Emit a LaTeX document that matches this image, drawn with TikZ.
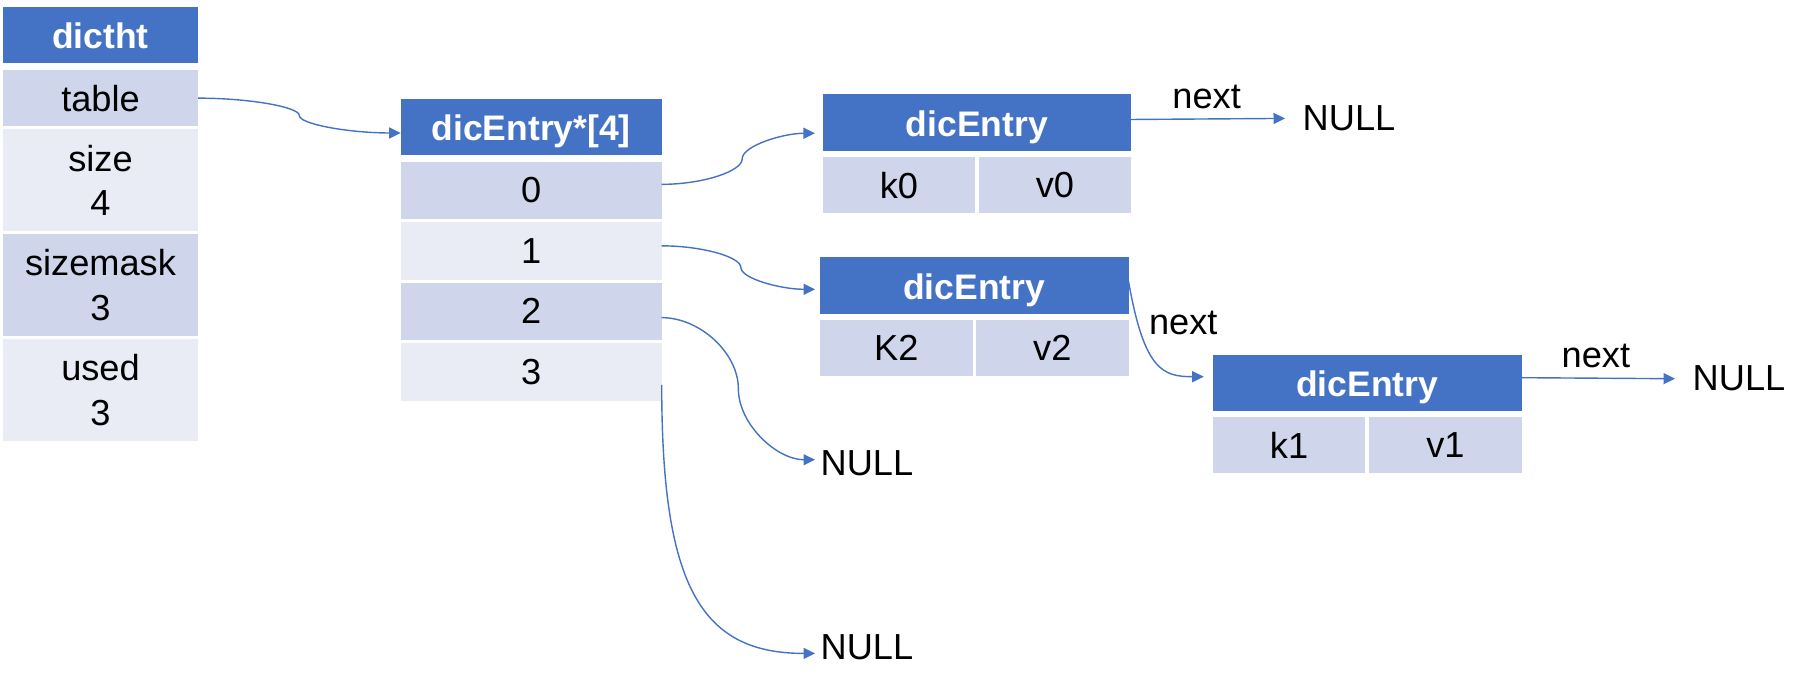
\documentclass[tikz,border=0pt]{standalone}
\usepackage{fontspec}
\setmainfont{Liberation Sans}
\usetikzlibrary{arrows.meta,positioning,calc}
\definecolor{hdrblue}{HTML}{4472C4}
\definecolor{rowdark}{HTML}{CFD5EA}
\definecolor{rowlight}{HTML}{E9EBF5}
\tikzset{
  head/.style  = {rectangle, fill=hdrblue, text=white, inner sep=0, outer sep=0,
                  minimum height=5.63mm, text height=2.9mm, text depth=0.1mm,
                  font=\fontsize{10.1}{12}\selectfont\bfseries},
  cell/.style  = {rectangle, fill=#1, inner sep=0, outer sep=0, align=center,
                  font=\fontsize{10.3}{12.6}\selectfont},
  kv/.style    = {cell=rowdark, minimum width=15.26mm, minimum height=5.6mm},
  word/.style  = {inner sep=0, anchor=base west, font=\fontsize{10.3}{12.6}\selectfont},
  null/.style  = {word, inner xsep=1.7mm},
  link/.style  = {-{Triangle[length=1.15mm,width=1.1mm]}, hdrblue, line width=0.4pt},
  curvy/.style = {to path={let \p1=(\tikztostart), \p2=(\tikztotarget) in
                   .. controls ({(3*\x1+\x2)/4},\y1) and ({(\x1+\x2)/2},{(3*\y1+\y2)/4})
                   .. ({(\x1+\x2)/2},{(\y1+\y2)/2})
                   .. controls ({(\x1+\x2)/2},{(\y1+3*\y2)/4}) and ({(\x1+3*\x2)/4},\y2)
                   .. (\p2) \tikztonodes}},
}
\begin{document}
\begin{tikzpicture}
  \useasboundingbox (0,0) rectangle (18.08,-6.91);

  % dictht
  \node[head, minimum width=1.95cm] (ht) at (1.005,-0.35) {dictht};
  \node[cell=rowdark, minimum width=1.95cm, minimum height=5.6mm, below=0.7mm of ht] (tbl) {table};
  \node[cell=rowlight, minimum width=1.95cm, minimum height=10.2mm, below=0.3mm of tbl] (size) {size\\4};
  \node[cell=rowdark, minimum width=1.95cm, minimum height=10.2mm, below=0.3mm of size] (mask) {sizemask\\3};
  \node[cell=rowlight, minimum width=1.95cm, minimum height=10.2mm, below=0.3mm of mask] (used) {used\\3};

  % bucket array
  \node[head, minimum width=2.61cm] (arr) at (5.312,-1.27) {dicEntry*[4]};
  \foreach \i/\c in {0/rowdark,1/rowlight,2/rowdark,3/rowlight}
    \node[cell=\c, minimum width=2.61cm, minimum height=5.75mm] (r\i) at (5.312,{-1.9035-0.605*\i}) {\i};

  % entries
  \node[head, minimum width=3.085cm] (eA) at (9.769,-1.225) {dicEntry};
  \node[kv, below right=0.66mm and 0mm of eA.south west] (kA) {k0};
  \node[kv, below left=0.66mm and 0mm of eA.south east] (vA) {v0};

  \node[head, minimum width=3.085cm] (eB) at (9.743,-2.855) {dicEntry};
  \node[kv, below right=0.66mm and 0mm of eB.south west] (kB) {K2};
  \node[kv, below left=0.66mm and 0mm of eB.south east] (vB) {v2};

  \node[head, minimum width=3.09cm] (eC) at (13.672,-3.827) {dicEntry};
  \node[kv, below right=0.66mm and 0mm of eC.south west] (kC) {k1};
  \node[kv, below left=0.66mm and 0mm of eC.south east] (vC) {v1};

  % labels
  \node[word] (nextA) at (11.717,-1.083) {next};
  \node[word] (nextB) at (11.483,-3.343) {next};
  \node[word] (nextC) at (15.61,-3.677) {next};
  \node[null] (nullA) at (12.85,-1.307) {NULL};
  \node[null] (nullC) at (16.75,-3.91) {NULL};
  \node[null, inner xsep=0.5mm] (null1) at (8.15,-4.76) {NULL};
  \node[null, inner xsep=0.5mm] (null2) at (8.15,-6.593) {NULL};

  % pointers
  \draw[link, curvy] (tbl.east) to ([yshift=-0.6mm]arr.west);
  \draw[link, curvy, shorten >=0.77mm] ([yshift=0.6mm]r0.east) to ([yshift=-1.08mm]eA.west);
  \draw[link, curvy, shorten >=0.5mm] ([yshift=0.5mm]r1.east) to ([yshift=-0.38mm]eB.west);
  \draw[link, curvy] ([yshift=-0.63mm]r2.east) to ([yshift=0.4mm]null1.west);
  \draw[link] ([yshift=-1.3mm]r3.east) to[out=-90, in=180, out distance=20mm, in distance=11.5mm] ([yshift=-0.64mm]null2.west);
  \draw[link] ([yshift=0.3mm]eA.east) -- (nullA.west);
  \draw[link, shorten >=0.9mm] ([yshift=0.4mm]eB.east) to[out=-80, in=180, out distance=9mm, in distance=5mm] ([yshift=0.6mm]eC.west);
  \draw[link] ([yshift=0.5mm]eC.east) -- (nullC.west);
\end{tikzpicture}
\end{document}
